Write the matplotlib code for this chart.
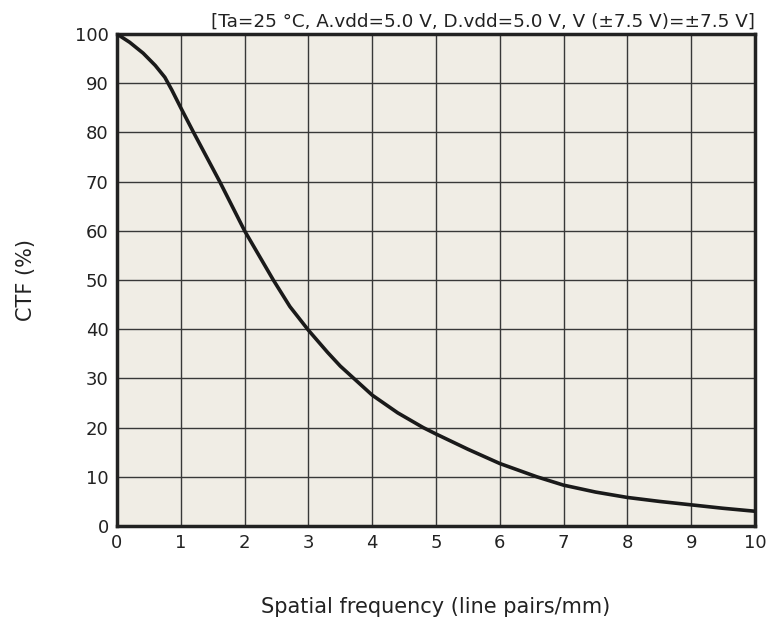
from matplotlib import pyplot as plt
import numpy as np

freq = [0, 0.2, 0.41, 0.6, 0.75, 0.86, 1.0, 1.2, 1.61, 2.0, 2.45, 2.71, 3.0,
        3.3, 3.5, 4.0, 4.4, 4.8, 5.0, 5.5, 6.0, 6.58, 7.0, 7.5, 8.0, 8.5,
        9.0, 9.5, 10.0]
ctf = [100, 98.3, 96.1, 93.6, 91.2, 88.6, 85.0, 80, 70, 60, 50, 44.6, 39.8,
       35.3, 32.5, 26.6, 23.0, 20.0, 18.7, 15.6, 12.7, 10.0, 8.3, 6.9, 5.8,
       5.0, 4.3, 3.6, 3.0]
xticks = np.arange(0, 11, 1)
yticks = np.arange(0, 101, 10)
cond = "[Ta=25 °C, A.vdd=5.0 V, D.vdd=5.0 V, V (±7.5 V)=±7.5 V]"

plt.rcParams['font.family'] = ['DejaVu Sans']
fig = plt.figure(figsize=(7.68, 6.26), dpi=100)
ax = fig.add_axes([117/768, 1-526/626, (755-117)/768, (526-34)/626])
ax.set_facecolor('#f0ede5')

ax.plot(freq, ctf, color='#1a1a1a', lw=2.6, solid_capstyle='round',
        solid_joinstyle='round', zorder=3)

ax.set_xlim(0, 10)
ax.set_ylim(0, 100)
ax.set_xticks(xticks)
ax.set_yticks(yticks)
ax.grid(True, color='#383838', lw=1.0)
ax.set_axisbelow(True)
for s in ax.spines.values():
    s.set_linewidth(2.5)
    s.set_color('#222222')
ax.tick_params(length=0, labelsize=13, colors='#222222', pad=6)

ax.set_xlabel('Spatial frequency (line pairs/mm)', fontsize=15, color='#222222', labelpad=32)
ax.set_ylabel('CTF (%)', fontsize=15, color='#222222', labelpad=28)
ax.set_title(cond, loc='right', fontsize=13.2, color='#222222', pad=5)

fig.savefig('out.png', dpi=100)
